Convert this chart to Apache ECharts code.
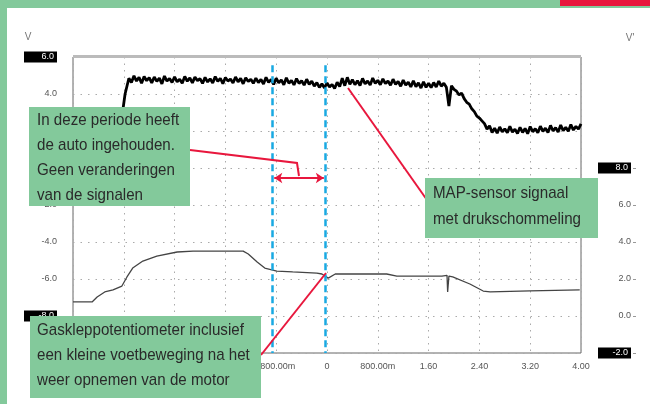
<!DOCTYPE html>
<html>
<head>
<meta charset="utf-8">
<title>Gasklep en MAP-sensor</title>
<script src="https://cdn.jsdelivr.net/npm/echarts@6/dist/echarts.min.js"></script>
<style>
    html, body { margin: 0; padding: 0; background: #fff; }
    #chart { width: 650px; height: 404px; }
</style>
</head>
<body>
<div id="chart"></div>
<script>
// tijd-as (s) en labels zoals op de scoop
var xTickLabels = ['-4.00', '-3.20', '-2.40', '-1.60', '-800.00m', '0', '800.00m', '1.60', '2.40', '3.20', '4.00'];
var leftTickLabels = ['-10.0', '-8.0', '-6.0', '-4.0', '-2.0', '0.0', '2.0', '4.0', '6.0'];
var rightTickLabels = ['-2.0', '0.0', '2.0', '4.0', '6.0', '8.0', '', '', ''];

// MAP-sensor: aanloop tot het signaal op niveau is
var mapLeadTimes = [-4.0, -3.3, -3.24, -3.18];
var mapLeadValues = [1.5, 1.6, 2.5, 4.0];
// MAP-sensor met drukschommeling, monsters om de 0.04 s vanaf -3.12 s
var mapStart = -3.12;
var mapStep = 0.04;
var mapValues = [
    4.85, 4.62, 4.98, 4.70, 4.90, 4.58, 4.95, 4.72, 4.88, 4.60,
    4.92, 4.68, 4.86, 4.55, 4.97, 4.70, 4.84, 4.62, 4.93, 4.66,
    4.80, 4.58, 4.95, 4.69, 4.87, 4.60, 4.91, 4.72, 4.83, 4.57,
    4.90, 4.65, 4.82, 4.60, 4.94, 4.68, 4.85, 4.56, 4.89, 4.70,
    4.81, 4.59, 4.92, 4.66, 4.84, 4.55, 4.88, 4.67, 4.80, 4.58,
    4.86, 4.62, 4.79, 4.54, 4.90, 4.63, 4.78, 4.52, 4.85, 4.60,
    4.76, 4.50, 4.88, 4.58, 4.74, 4.49, 4.83, 4.57, 4.72, 4.48,
    4.80, 4.52, 4.70, 4.42, 4.62, 4.36, 4.55, 4.33, 4.60, 4.38,
    4.52, 4.30, 4.64, 4.40, 4.85, 4.45, 4.90, 4.52, 4.78, 4.50,
    4.72, 4.46, 4.84, 4.55, 4.70, 4.48, 4.86, 4.58, 4.74, 4.50,
    4.82, 4.56, 4.70, 4.47, 4.80, 4.52, 4.68, 4.42, 4.75, 4.48,
    4.64, 4.38, 4.72, 4.40, 4.60, 4.32, 4.66, 4.36, 4.58, 4.35,
    4.62, 4.38, 4.70, 4.42, 4.58, 4.36, 3.35, 4.45, 4.25, 4.15,
    3.95, 4.05, 3.75, 3.55, 3.45, 3.20, 3.05, 2.80, 2.70, 2.55,
    2.40, 2.10, 2.28, 1.92, 2.15, 1.88, 2.22, 1.95, 2.12, 1.90,
    2.25, 1.94, 2.10, 1.86, 2.20, 1.92, 2.14, 1.85, 2.24, 1.96,
    2.12, 1.90, 2.26, 1.98, 2.15, 1.92, 2.30, 2.00, 2.18, 1.95,
    2.32, 2.02, 2.20, 1.98, 2.35, 2.05, 2.25, 2.10, 2.38
];

// gasklepsensor (rechter as)
var gasTimes = [-4.00, -3.70, -3.62, -3.50, -3.37, -3.23, -3.15, -3.06, -2.90, -2.68, -2.36, -2.11, -1.32, -1.24, -1.10, -0.98, -0.79, -0.54, -0.16, -0.08, 0.02, 0.13, 0.94, 1.10, 1.81, 1.89, 1.90, 1.92, 1.98, 2.25, 2.46, 2.57, 3.20, 3.98];
var gasValues = [0.76, 0.76, 1.03, 1.30, 1.41, 1.62, 2.11, 2.59, 2.97, 3.24, 3.46, 3.51, 3.51, 3.35, 2.92, 2.59, 2.43, 2.38, 2.32, 2.27, 2.05, 2.27, 2.27, 2.16, 2.16, 2.20, 1.30, 2.16, 2.11, 1.73, 1.35, 1.30, 1.36, 1.41];

// cursors
var cursorTimes = [-0.86, -0.02];

var green = '#83c99b';
var red = '#e8173d';
var blue = '#19a9e2';
var textFont = '"Liberation Sans", Arial, sans-serif';

var mapData = [];
for (var i = 0; i < mapLeadTimes.length; i++) {
    mapData.push([mapLeadTimes[i], mapLeadValues[i]]);
}
for (var j = 0; j < mapValues.length; j++) {
    mapData.push([+(mapStart + j * mapStep).toFixed(2), mapValues[j]]);
}
var gasData = gasTimes.map(function (t, k) { return [t, gasValues[k]]; });

var boxRich = {
    box: {
        backgroundColor: '#000',
        color: '#fff',
        width: 30,
        align: 'right',
        padding: [1, 3, 1, 0],
        fontSize: 9
    }
};

// smalle tekst in de groene vakken (de bron gebruikt een narrow letter)
function noteText(txt, x, y, lh) {
    return {
        type: 'text', x: x, y: y, z: 71, scaleX: 0.89,
        style: {
            text: txt, fill: '#2a2a2a', fontSize: 17, fontFamily: textFont,
            lineHeight: lh, verticalAlign: 'top'
        }
    };
}

var chart = echarts.init(document.getElementById('chart'));
var option = {
    animation: false,
    backgroundColor: '#fff',
    grid: {
        left: 73,
        right: 69,
        top: 57,
        bottom: 51,
        show: true,
        borderColor: '#666',
        borderWidth: 1
    },
    xAxis: {
        type: 'value',
        min: -4,
        max: 4,
        interval: 0.8,
        axisLine: { show: false },
        axisTick: { show: false },
        axisLabel: {
            color: '#555',
            fontSize: 9,
            margin: 9,
            formatter: function (v) {
                return xTickLabels[Math.round((v + 4) / 0.8)];
            }
        },
        splitLine: { lineStyle: { color: '#aaa', type: [1.5, 5], width: 1 } }
    },
    yAxis: [
        {
            type: 'value',
            min: -10,
            max: 6,
            interval: 2,
            axisLine: { show: false },
            axisTick: { show: false },
            axisLabel: {
                color: '#555',
                fontSize: 9,
                margin: 16,
                formatter: function (v) {
                    var s = leftTickLabels[Math.round((v + 10) / 2)];
                    if (v === 6 || v === -8) return '{box|' + s + '}';
                    if (v === -10) return '';
                    return s;
                },
                rich: boxRich
            },
            splitLine: { lineStyle: { color: '#aaa', type: [1.5, 6], width: 1 } }
        },
        {
            type: 'value',
            position: 'right',
            offset: 55,
            min: -2,
            max: 14,
            interval: 2,
            axisLine: { show: false },
            axisTick: {
                show: true, inside: true, length: 3,
                customValues: [-2, 0, 2, 4, 6, 8],
                lineStyle: { color: '#999' }
            },
            axisLabel: {
                inside: true,
                color: '#555',
                fontSize: 9,
                margin: 5,
                formatter: function (v) {
                    var s = rightTickLabels[Math.round((v + 2) / 2)];
                    if (v === 8 || v === -2) return '{box|' + s + '}';
                    return s;
                },
                rich: boxRich
            },
            splitLine: { show: false }
        }
    ],
    series: [
        {
            name: 'MAP-sensor',
            type: 'line',
            yAxisIndex: 0,
            data: mapData,
            showSymbol: false,
            lineStyle: { color: '#000', width: 2.8 },
            z: 3,
            markLine: {
                silent: true,
                symbol: ['none', 'none'],
                label: { show: false },
                lineStyle: { color: blue, type: [7, 4], width: 2.5 },
                data: cursorTimes.map(function (t) {
                    return [{ coord: [t, 5.55] }, { coord: [t, -10] }];
                })
            }
        },
        {
            name: 'Gasklep',
            type: 'line',
            yAxisIndex: 1,
            data: gasData,
            showSymbol: false,
            lineStyle: { color: '#444', width: 1.3 },
            z: 2,
            markLine: {
                silent: true,
                symbol: ['arrow', 'arrow'],
                symbolSize: 8,
                label: { show: false },
                lineStyle: { color: red, type: 'solid', width: 2 },
                data: [[{ coord: [cursorTimes[0] + 0.03, 7.46] }, { coord: [cursorTimes[1] - 0.03, 7.46] }]]
            }
        }
    ],
    graphic: [
        // kader
        { type: 'rect', shape: { x: 0, y: 0, width: 650, height: 8 }, style: { fill: green }, z: 50 },
        { type: 'rect', shape: { x: 0, y: 0, width: 7, height: 404 }, style: { fill: green }, z: 50 },
        { type: 'rect', shape: { x: 560, y: 0, width: 90, height: 6 }, style: { fill: red }, z: 51 },
        { type: 'rect', shape: { x: 73, y: 55, width: 508, height: 3 }, style: { fill: '#bbb' }, z: 5 },
        // eenheden
        { type: 'text', x: 28, y: 37, style: { text: 'V', fill: '#777', fontSize: 10, align: 'center', verticalAlign: 'middle' } },
        { type: 'text', x: 630, y: 38, style: { text: "V'", fill: '#777', fontSize: 10, align: 'center', verticalAlign: 'middle' } },
        // rode verwijslijnen
        { type: 'polyline', shape: { points: [[190, 150], [297, 163], [299, 176]] }, style: { stroke: red, lineWidth: 2, fill: null }, z: 60 },
        { type: 'line', shape: { x1: 348, y1: 88, x2: 427, y2: 200 }, style: { stroke: red, lineWidth: 2 }, z: 60 },
        { type: 'line', shape: { x1: 326, y1: 273, x2: 261, y2: 355 }, style: { stroke: red, lineWidth: 2 }, z: 60 },
        // tekstvakken
        { type: 'rect', shape: { x: 29, y: 107, width: 161, height: 99 }, style: { fill: green }, z: 70 },
        noteText('In deze periode heeft\nde auto ingehouden.\nGeen veranderingen\nvan de signalen', 37, 108, 25),
        { type: 'rect', shape: { x: 425, y: 178, width: 173, height: 60 }, style: { fill: green }, z: 70 },
        noteText('MAP-sensor signaal\nmet drukschommeling', 433, 180, 26),
        { type: 'rect', shape: { x: 30, y: 316, width: 231, height: 82 }, style: { fill: green }, z: 70 },
        noteText('Gaskleppotentiometer inclusief\neen kleine voetbeweging na het\nweer opnemen van de motor', 37, 318, 25)
    ]
};
chart.setOption(option);
</script>
</body>
</html>
